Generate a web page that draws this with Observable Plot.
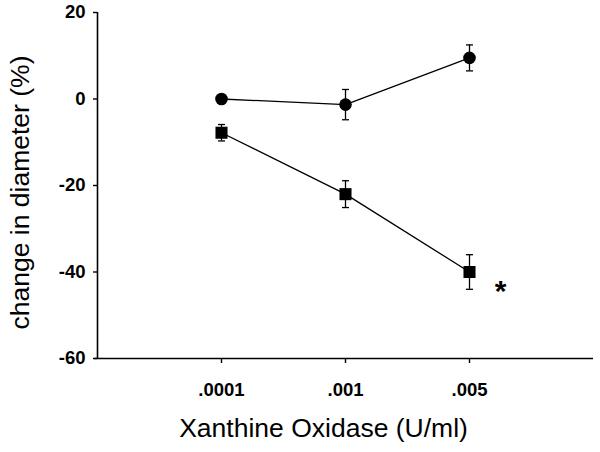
<!DOCTYPE html>
<html>
<head>
<meta charset="utf-8">
<script src="https://cdn.jsdelivr.net/npm/d3@7"></script>
<script src="https://cdn.jsdelivr.net/npm/@observablehq/plot@0.6"></script>
<style>
  html, body { margin: 0; padding: 0; background: #fff; }
  #chart { width: 600px; height: 452px; }
</style>
</head>
<body>
<div id="chart"></div>
<script>
// Categories (equally spaced on the x axis)
const doseLabels = [".0001", ".001", ".005"];
const doseIndex = [0, 1, 2];

// Series: circles (control) and squares (treated)
const circleMean = [0, -1.3, 9.5];
const circleErr = [0.8, 3.5, 3.0];
const squareMean = [-7.8, -22, -40];
const squareErr = [1.9, 3.1, 4.0];

// Axis ticks and titles
const yTicks = [-60, -40, -20, 0, 20];
const xTitle = "Xanthine Oxidase (U/ml)";
const yTitle = "change in diameter (%)";

// Significance marker
const annotations = [{x: 2.25, y: -44.5, label: "*"}];

const rows = [];
doseIndex.forEach((d, i) => {
  rows.push({series: "circle", x: d, y: circleMean[i], err: circleErr[i]});
  rows.push({series: "square", x: d, y: squareMean[i], err: squareErr[i]});
});
const circles = rows.filter(d => d.series === "circle");
const squares = rows.filter(d => d.series === "square");
const caps = rows.flatMap(d => [{x: d.x, y: d.y + d.err}, {x: d.x, y: d.y - d.err}]);

const capSymbol = {
  draw(context, size) {
    const w = Math.sqrt(size / Math.PI);
    context.moveTo(-w, 0);
    context.lineTo(w, 0);
  }
};

const font = "'Liberation Sans', Arial, Helvetica, sans-serif";

const chart = Plot.plot({
  width: 600,
  height: 452,
  marginLeft: 97,
  marginRight: 7,
  marginTop: 12,
  marginBottom: 94,
  style: {fontFamily: font, background: "#fff", color: "#000"},
  x: {type: "linear", domain: [-1, 3], axis: null},
  y: {domain: [-60, 20], axis: null},
  marks: [
    // axis lines
    Plot.ruleX([-1], {y1: -60, y2: 20, stroke: "#000", strokeWidth: 1.6}),
    Plot.ruleY([-60], {x1: -1, x2: 3, stroke: "#000", strokeWidth: 1.6, insetLeft: -3}),
    Plot.axisY({
      ticks: yTicks, tickSize: 4, tickPadding: 8, tickFormat: d => String(d),
      fontSize: 18.5, fontWeight: "bold", label: null, strokeWidth: 1.4
    }),
    Plot.axisX({
      ticks: doseIndex, tickSize: 5, tickPadding: 19, tickFormat: i => doseLabels[i],
      fontSize: 18.5, fontWeight: "bold", label: null, strokeWidth: 1.4
    }),
    Plot.text([yTitle], {
      frameAnchor: "left", rotate: -90, dx: -77, dy: 7,
      fontSize: 26.5, textAnchor: "middle", lineAnchor: "middle", fill: "#000"
    }),
    Plot.text([xTitle], {
      frameAnchor: "bottom", dx: -22, dy: 70,
      fontSize: 26.5, textAnchor: "middle", lineAnchor: "middle", fill: "#000"
    }),
    // error bars
    Plot.ruleX(rows, {x: "x", y1: d => d.y - d.err, y2: d => d.y + d.err, stroke: "#000", strokeWidth: 1.3}),
    Plot.dot(caps, {x: "x", y: "y", symbol: capSymbol, r: 3.5, stroke: "#000", strokeWidth: 1.3, fill: "none"}),
    // lines
    Plot.line(circles, {x: "x", y: "y", stroke: "#000", strokeWidth: 1.3}),
    Plot.line(squares, {x: "x", y: "y", stroke: "#000", strokeWidth: 1.3}),
    // markers
    Plot.dot(circles, {x: "x", y: "y", r: 6.3, fill: "#000", stroke: "none"}),
    Plot.dot(squares, {x: "x", y: "y", symbol: "square", r: 6.8, fill: "#000", stroke: "none"}),
    // significance asterisk
    Plot.text(annotations, {x: "x", y: "y", text: "label", fontSize: 30, fontWeight: "bold", fill: "#000"})
  ]
});
document.getElementById("chart").append(chart);
</script>
</body>
</html>
